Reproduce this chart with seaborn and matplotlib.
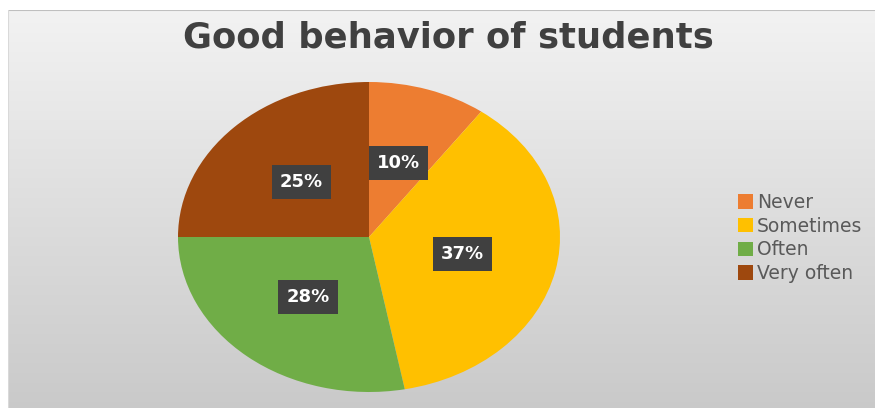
import numpy as np
import seaborn as sns
import matplotlib.pyplot as plt

labels = ['Never', 'Sometimes', 'Often', 'Very often']
shares = [10, 37, 28, 25]
colors = ['#ED7D31', '#FFC000', '#70AD47', '#9E480E']
title = 'Good behavior of students'

sns.set_theme(style='white')
plt.rcParams['font.family'] = ['DejaVu Sans']

fig = plt.figure(figsize=(8.75, 4.08), dpi=100)
fig.patch.set_facecolor('white')

# gray gradient chart area, white margin at top and left
bg = fig.add_axes([8 / 875, 0, 1 - 8 / 875, 1 - 10 / 408])
grad = np.linspace(0.95, 0.79, 256).reshape(-1, 1)
bg.imshow(np.dstack([grad] * 3), aspect='auto', extent=[0, 1, 0, 1])
bg.set_axis_off()
bg.add_line(plt.Line2D([0, 1], [1, 1], color='#BFBFBF', lw=1.5, transform=bg.transAxes))
bg.add_line(plt.Line2D([0, 0], [0, 1], color='#D9D9D9', lw=1.5, transform=bg.transAxes))

# pie axes (ellipse: stretched horizontally like the screenshot)
cx, cy, rx, ry = 369, 237, 191, 155
ax = fig.add_axes([(cx - rx) / 875, (408 - cy - ry) / 408, 2 * rx / 875, 2 * ry / 408])
wedges, texts, autotexts = ax.pie(
    shares, colors=colors, startangle=90, counterclock=False,
    autopct='%1.0f%%', pctdistance=0.5, radius=1,
    wedgeprops=dict(linewidth=0),
    textprops=dict(color='white', fontsize=13, fontweight='bold'))
ax.set_aspect('auto')
ax.set_xlim(-1, 1)
ax.set_ylim(-1, 1)
ax.set_axis_off()
for t in autotexts:
    t.set_bbox(dict(boxstyle='square,pad=0.45', facecolor='#404040', edgecolor='none'))

fig.text(448 / 875, 1 - 47 / 408, title, ha='center', va='baseline',
         fontsize=25.5, fontweight='bold', color='#404040')

leg = fig.legend(wedges, labels, loc='center left', bbox_to_anchor=(729 / 875, 1 - 238 / 408),
                 frameon=False, fontsize=13.5, handlelength=0.8, handleheight=0.8,
                 handletextpad=0.2, labelspacing=0.25, borderpad=0)
for t in leg.get_texts():
    t.set_color('#595959')

fig.savefig('out.png', dpi=100)
